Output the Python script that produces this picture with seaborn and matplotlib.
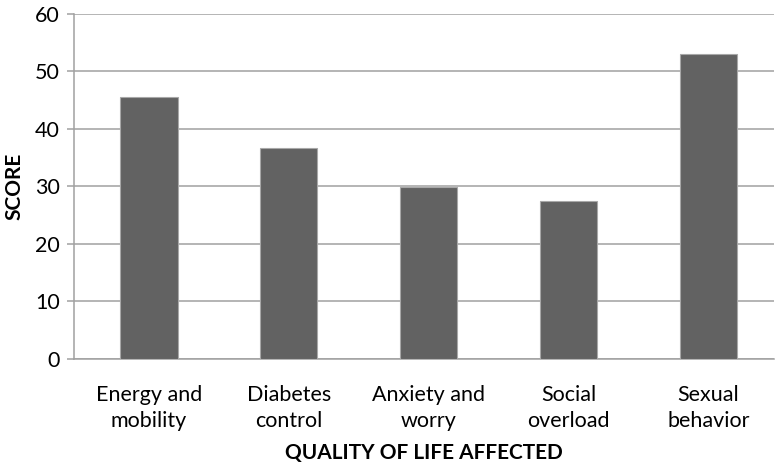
import matplotlib
matplotlib.use("Agg")
import matplotlib.pyplot as plt
import seaborn as sns
import pandas as pd

# values
categories = ["Energy and\nmobility", "Diabetes\ncontrol", "Anxiety and\nworry",
              "Social\noverload", "Sexual\nbehavior"]
scores = [45.5, 36.7, 29.8, 27.5, 53.0]
y_ticks = [0, 10, 20, 30, 40, 50, 60]

df = pd.DataFrame({"category": categories, "score": scores})

sns.set_style("white")
plt.rcParams["font.family"] = ["Lato", "DejaVu Sans"]
plt.rcParams["text.color"] = "black"
plt.rcParams["xtick.color"] = "black"
plt.rcParams["ytick.color"] = "black"
plt.rcParams["axes.labelcolor"] = "black"

fig = plt.figure(figsize=(7.77, 4.69), dpi=100)
ax = fig.add_axes([74 / 777, 1 - 358.6 / 469, 700 / 777, 344.6 / 469])

sns.barplot(data=df, x="category", y="score", color="#626262", width=0.41,
            edgecolor="#a8a8a8", linewidth=0.8, saturation=1, ax=ax, zorder=3)

ax.set_ylim(0, 60)
ax.set_yticks(y_ticks)
ax.set_xlim(-0.536, 4.47)
ax.yaxis.grid(True, color="#a0a0a0", linewidth=1.1, zorder=0)
ax.set_axisbelow(True)

for side in ["top", "right"]:
    ax.spines[side].set_visible(False)
ax.spines["left"].set_color("#a0a0a0")
ax.spines["bottom"].set_color("#a0a0a0")
ax.spines["left"].set_linewidth(1.1)
ax.spines["bottom"].set_linewidth(1.1)

ax.tick_params(axis="y", length=5, width=1.1, color="#a0a0a0", labelsize=15.5,
               pad=5, left=True, labelcolor="black")
ax.tick_params(axis="x", length=0, labelsize=15.5, pad=19, labelcolor="black")
for lbl in ax.get_xticklabels():
    lbl.set_linespacing(1.4)

ax.set_ylabel("SCORE", fontsize=15, fontweight="bold", labelpad=8)
ax.set_xlabel("QUALITY OF LIFE AFFECTED", fontsize=15, fontweight="bold", labelpad=8)

fig.savefig("out.png", dpi=100)
